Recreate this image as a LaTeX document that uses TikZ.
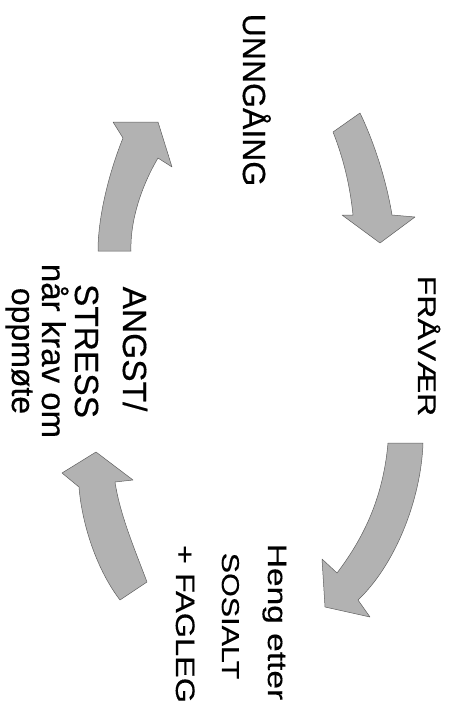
\documentclass[tikz,border=0pt]{standalone}
\usepackage{fontspec}
\setmainfont{Liberation Sans}[FakeBold=0.35]
\begin{document}
\begin{tikzpicture}[x=1pt,y=-1pt,
  blockarrow/.style={fill={rgb,255:red,178;green,178;blue,178}, draw={rgb,255:red,95;green,95;blue,95}, line width=0.5pt, line join=round},
  lbl/.style={rotate=-90, anchor=base, inner sep=0pt, text=black},
  fs/.style={font=\fontsize{#1}{#1}\selectfont}]
\useasboundingbox (0,0) rectangle (453,705);

% cycle arrows (block arrows)
\path[blockarrow] (333,132) -- (360,113) .. controls (373,140) and (386,178) .. (392,215)
  -- (415,217) -- (380,243) -- (342,215) -- (353,215)
  .. controls (350,185) and (343,157) .. (333,132) -- cycle;
\path[blockarrow] (388,443) -- (423,443) .. controls (421,500) and (395,565) .. (358,600)
  -- (370,617) -- (325,607) -- (322,559) -- (337,573)
  .. controls (362,540) and (383,500) .. (388,443) -- cycle;
\path[blockarrow] (120,600) -- (147,582) .. controls (135,550) and (120,515) .. (115,482)
  -- (133,480) -- (96,452) -- (62,473) -- (79,487)
  .. controls (82,525) and (97,570) .. (120,600) -- cycle;
\path[blockarrow] (98,251) .. controls (98,215) and (110,170) .. (123,138)
  -- (113,122) -- (158,122) -- (172,167) -- (158,158)
  .. controls (142,185) and (130,220) .. (131,251) -- cycle;

% labels
\node[lbl, fs=32] (unngaaing) at (243,100) {UNNGÅING};
\node[lbl, fs=32] (fravaer) at (418,346) {\scalebox{1}[0.8]{FRÅVÆR}};
\node[lbl, fs=33.5] (heng1) at (268,622) {\scalebox{1}[0.8]{Heng etter}};
\node[lbl, fs=30.5] (heng2) at (222,616) {\scalebox{1}[0.8]{SOSIALT}};
\node[lbl, fs=32.5] (heng3) at (176,624) {\scalebox{1}[0.82]{+ FAGLEG}};
\node[lbl, fs=33.5] (angst1) at (123,349) {ANGST/};
\node[lbl, fs=33.5] (angst2) at (75,351) {STRESS};
\node[lbl, fs=33] (angst3) at (42,351) {når krav om};
\node[lbl, fs=32] (angst4) at (12,351) {oppmøte};
\end{tikzpicture}
\end{document}
